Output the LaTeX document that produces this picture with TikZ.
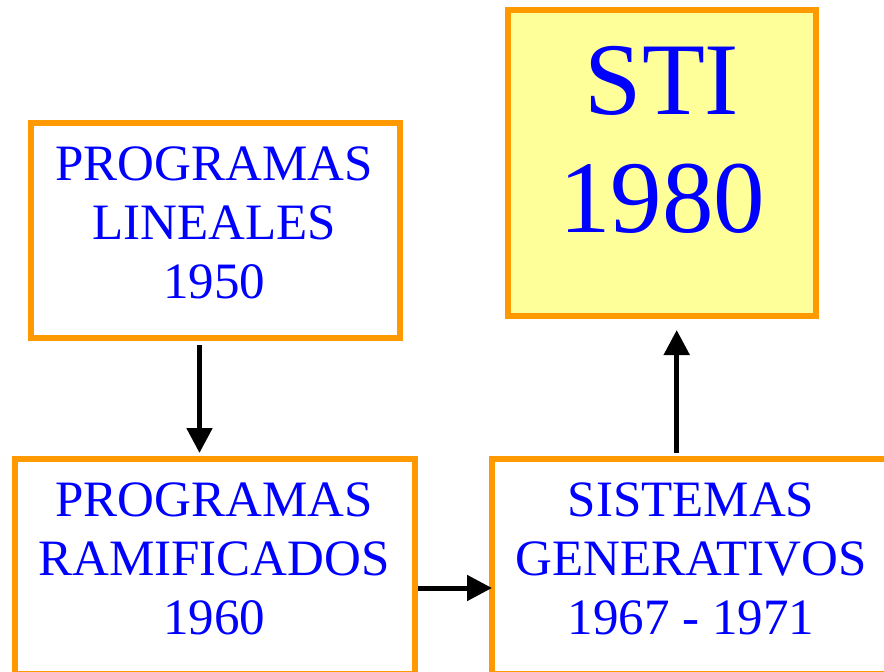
\documentclass[tikz,border=0pt]{standalone}
\usepackage{fontspec}
\setmainfont{Liberation Serif}
\usetikzlibrary{arrows.meta}
\definecolor{boxorange}{HTML}{FF9900}
\definecolor{boxyellow}{HTML}{FFFF99}
\definecolor{txtblue}{HTML}{0000FF}
\tikzset{
  stagebox/.style={draw=boxorange, line width=6pt, rectangle, inner sep=0pt, fill=white},
  stagetext/.style={text=txtblue, align=center, inner sep=0pt, font=\fontsize{51}{59}\selectfont},
  bigtext/.style={text=txtblue, align=center, inner sep=0pt, font=\fontsize{103}{118}\selectfont},
  flow/.style={line width=5pt, -{Triangle[length=25pt,width=25pt]}}
}
\begin{document}
\begin{tikzpicture}[x=1pt,y=-1pt]
\useasboundingbox (0,0) rectangle (884,672);
\clip (0,0) rectangle (884,672);
\fill[white] (0,0) rectangle (884,672);
% boxes
\node[stagebox, minimum width=369pt, minimum height=215pt] (b1) at (215,230.5) {};
\node[stagebox, fill=boxyellow, minimum width=308pt, minimum height=306pt] (b2) at (662,163) {};
\node[stagebox, minimum width=400pt, minimum height=215pt] (b3) at (215,566.5) {};
\node[stagebox, minimum width=398pt, minimum height=215pt] (b4) at (691,566.5) {};
% texts
\node[stagetext] (t1) at (214,223) {PROGRAMAS\\LINEALES\\1950};
\node[bigtext] (t2) at (662,140) {STI\\1980};
\node[stagetext] (t3) at (214,559) {PROGRAMAS\\RAMIFICADOS\\1960};
\node[stagetext] (t4) at (691,559) {SISTEMAS\\GENERATIVOS\\1967 - 1971};
% connectors
\draw[flow, shorten <=4pt, shorten >=3pt] ([xshift=-15.5pt]b1.south) -- ([xshift=-15.5pt]b3.north);
\draw[flow, shorten >=-3pt] ([yshift=-21.5pt]b3.east) -- ([yshift=-21.5pt]b4.west);
\draw[flow, shorten <=3.3pt, shorten >=11pt] ([xshift=-14.3pt]b4.north) -- ([xshift=-14.3pt]b4.north |- b2.south);
\end{tikzpicture}
\end{document}
